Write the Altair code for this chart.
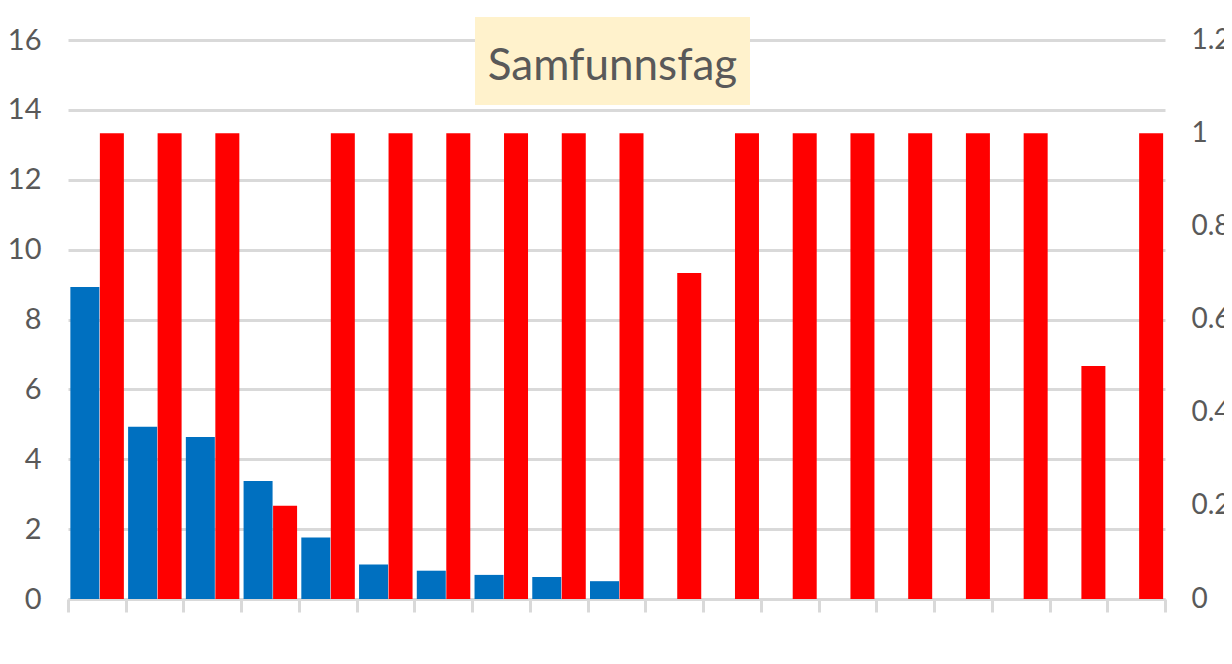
import altair as alt
import pandas as pd

categories = list(range(1, 20))
blue_values = [8.93, 4.93, 4.64, 3.38, 1.76, 0.99, 0.81, 0.69, 0.63, 0.51]
red_values = [1, 1, 1, 0.2, 1, 1, 1, 1, 1, 1, 0.7, 1, 1, 1, 1, 1, 1, 0.5, 1]
left_ticks = [0, 2, 4, 6, 8, 10, 12, 14, 16]
right_ticks = [0, 0.2, 0.4, 0.6, 0.8, 1.0, 1.2]
x_ticks = [c - 0.5 for c in categories] + [categories[-1] + 0.5]
title_text = "Samfunnsfag"

FONT = "Lato"
GREY = "#595959"
GRID = "#D9D9D9"

blue_df = pd.DataFrame({"cat": categories[:len(blue_values)], "v": blue_values})
red_df = pd.DataFrame({"cat": categories, "v": red_values})
title_df = pd.DataFrame({"t": [title_text]})

x_enc = alt.X(
    "cat:Q",
    scale=alt.Scale(domain=[0.5, 19.5], nice=False, zero=False, padding=0),
    axis=alt.Axis(values=x_ticks, labels=False, title=None, grid=False,
                  ticks=True, tickSize=13, tickColor=GRID, tickWidth=3,
                  domainColor=GRID, domainWidth=3),
)

blue = alt.Chart(blue_df).mark_bar(color="#0070C0", width=29, xOffset=-12).encode(
    x=x_enc,
    y=alt.Y("v:Q", scale=alt.Scale(domain=[0, 16], nice=False),
            axis=alt.Axis(orient="left", values=left_ticks, title=None, grid=True,
                          gridColor=GRID, gridWidth=3, ticks=False, domain=False,
                          labelPadding=27, labelFont=FONT, labelFontSize=29,
                          labelColor=GREY)),
)

red = alt.Chart(red_df).mark_bar(color="#FF0000", width=24, xOffset=15).encode(
    x=x_enc,
    y=alt.Y("v:Q", scale=alt.Scale(domain=[0, 1.2], nice=False),
            axis=alt.Axis(orient="right", values=right_ticks, title=None, grid=False,
                          ticks=False, domain=False, format="~g",
                          labelPadding=26, labelFont=FONT, labelFontSize=28,
                          labelColor=GREY)),
)

box = alt.Chart(title_df).mark_rect(color="#FFF2CC").encode(
    x=alt.value(407), x2=alt.value(682), y=alt.value(-23), y2=alt.value(65)
)
label = alt.Chart(title_df).mark_text(
    font=FONT, fontSize=44, color=GREY, align="center", baseline="alphabetic"
).encode(x=alt.value(544.5), y=alt.value(40), text="t:N")

chart = alt.layer(blue, red, box, label).resolve_scale(y="independent").properties(
    width=1097, height=559,
    autosize=alt.AutoSizeParams(type="none"),
    padding={"left": 60, "top": 32, "right": 59, "bottom": 50},
).configure_view(stroke=None)

chart.save("out.html", embed_options={"renderer": "svg", "actions": False})
